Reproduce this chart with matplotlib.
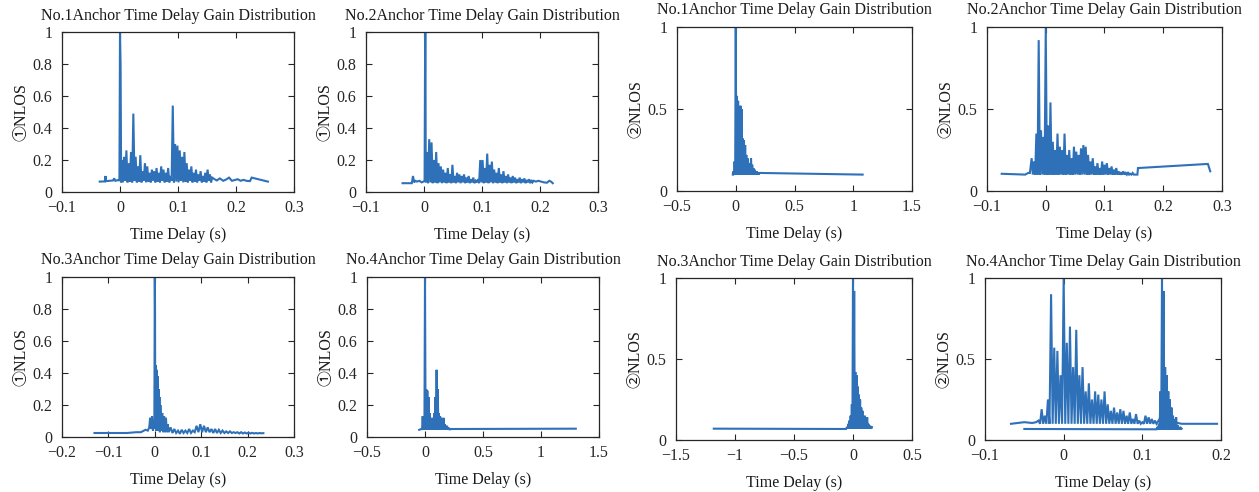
import numpy as np
import matplotlib
matplotlib.use("Agg")
import matplotlib.pyplot as plt
from matplotlib.ticker import FuncFormatter

plt.rcParams['font.family'] = ['Liberation Serif', 'DejaVu Serif', 'Noto Sans CJK SC']
plt.rcParams['axes.unicode_minus'] = True

LINE = '#2f71b9'

# ---------------- data ----------------
titles = ["No.1Anchor Time Delay Gain Distribution", "No.2Anchor Time Delay Gain Distribution",
          "No.1Anchor Time Delay Gain Distribution", "No.2Anchor Time Delay Gain Distribution",
          "No.3Anchor Time Delay Gain Distribution", "No.4Anchor Time Delay Gain Distribution",
          "No.3Anchor Time Delay Gain Distribution", "No.4Anchor Time Delay Gain Distribution"]
ylabels = ["\u2460NLOS", "\u2460NLOS", "\u2461NLOS", "\u2461NLOS",
           "\u2460NLOS", "\u2460NLOS", "\u2461NLOS", "\u2461NLOS"]
xlabel = "Time Delay (s)"

xlims = [(-0.1, 0.3), (-0.1, 0.3), (-0.5, 1.5), (-0.1, 0.3),
         (-0.2, 0.3), (-0.5, 1.5), (-1.5, 0.5), (-0.1, 0.2)]
xticks = [[-0.1, 0, 0.1, 0.2, 0.3], [-0.1, 0, 0.1, 0.2, 0.3], [-0.5, 0, 0.5, 1, 1.5], [-0.1, 0, 0.1, 0.2, 0.3],
          [-0.2, -0.1, 0, 0.1, 0.2, 0.3], [-0.5, 0, 0.5, 1, 1.5], [-1.5, -1, -0.5, 0, 0.5], [-0.1, 0, 0.1, 0.2]]
yticks_fine = [0, 0.2, 0.4, 0.6, 0.8, 1]
yticks_coarse = [0, 0.5, 1]

# Panel 1: No.1 anchor, NLOS 1
p1_t = [-0.035, -0.026, -0.025, -0.024, -0.018, -0.012, -0.010, -0.008, -0.003, -0.001, 0.000, 0.001, 0.002,
        0.003, 0.005, 0.007, 0.009, 0.011, 0.013, 0.015, 0.017, 0.019, 0.021,
        0.023, 0.025, 0.027, 0.029, 0.031, 0.033, 0.035, 0.037, 0.039, 0.041,
        0.043, 0.045, 0.047, 0.049, 0.051, 0.053, 0.055, 0.057, 0.059, 0.061,
        0.063, 0.065, 0.067, 0.069, 0.071, 0.073, 0.075, 0.077, 0.079, 0.081,
        0.083, 0.085, 0.087, 0.089, 0.091, 0.093, 0.095, 0.097, 0.099, 0.101,
        0.103, 0.105, 0.107, 0.109, 0.111, 0.113, 0.115, 0.117, 0.119, 0.121,
        0.123, 0.125, 0.127, 0.129, 0.131, 0.133, 0.135, 0.137, 0.139, 0.141,
        0.143, 0.145, 0.147, 0.149, 0.151, 0.153, 0.155, 0.157, 0.159,
        0.163, 0.167, 0.172, 0.178, 0.183, 0.188, 0.193, 0.198, 0.203, 0.208, 0.213, 0.218, 0.224, 0.227, 0.255]
p1_g = [0.065, 0.066, 0.10, 0.068, 0.07, 0.072, 0.085, 0.07, 0.075, 0.07, 1.0, 0.80, 0.06,
        0.20, 0.06, 0.22, 0.07, 0.26, 0.06, 0.18, 0.065, 0.25, 0.06,
        0.49, 0.07, 0.22, 0.06, 0.16, 0.065, 0.23, 0.06, 0.13, 0.07,
        0.18, 0.06, 0.16, 0.065, 0.12, 0.06, 0.14, 0.07, 0.13, 0.06,
        0.15, 0.065, 0.12, 0.06, 0.16, 0.07, 0.14, 0.06, 0.12, 0.065,
        0.15, 0.06, 0.10, 0.07, 0.54, 0.06, 0.30, 0.065, 0.29, 0.06,
        0.26, 0.07, 0.22, 0.06, 0.25, 0.065, 0.18, 0.06, 0.14, 0.07,
        0.16, 0.06, 0.12, 0.065, 0.14, 0.06, 0.11, 0.07, 0.13, 0.06,
        0.10, 0.065, 0.12, 0.06, 0.14, 0.07, 0.11, 0.06, 0.09,
        0.08, 0.072, 0.085, 0.07, 0.078, 0.09, 0.07, 0.075, 0.08, 0.07, 0.076, 0.07, 0.068, 0.09, 0.065]

# Panel 2: No.2 anchor, NLOS 1
p2_t = [-0.037, -0.021, -0.019, -0.017, -0.015, -0.012, -0.008, -0.004, -0.001, 0.001, 0.002, 0.0025, 0.003,
        0.005, 0.007, 0.009, 0.011, 0.013, 0.015, 0.017, 0.019, 0.021, 0.023,
        0.025, 0.027, 0.029, 0.031, 0.033, 0.035, 0.037, 0.039, 0.041, 0.043,
        0.045, 0.047, 0.049, 0.051, 0.053, 0.055, 0.057, 0.059, 0.061, 0.063,
        0.065, 0.067, 0.069, 0.071, 0.073, 0.075, 0.077, 0.079, 0.081, 0.083,
        0.085, 0.087, 0.089, 0.091, 0.093, 0.095, 0.097, 0.099, 0.101, 0.103,
        0.105, 0.107, 0.109, 0.111, 0.113, 0.115, 0.117, 0.119, 0.121, 0.123,
        0.125, 0.127, 0.129, 0.131, 0.133, 0.135, 0.137, 0.139, 0.141, 0.143,
        0.145, 0.147, 0.149, 0.151, 0.153, 0.155, 0.157, 0.159, 0.161, 0.163,
        0.165, 0.167, 0.169, 0.171, 0.173, 0.175, 0.177, 0.179, 0.181, 0.183,
        0.185, 0.187, 0.189,
        0.193, 0.197, 0.202, 0.207, 0.212, 0.216, 0.219, 0.222]
p2_g = [0.055, 0.055, 0.10, 0.06, 0.07, 0.065, 0.07, 0.06, 0.065, 0.07, 1.0, 1.0, 0.06,
        0.25, 0.055, 0.33, 0.06, 0.31, 0.055, 0.20, 0.06, 0.25, 0.055,
        0.18, 0.06, 0.16, 0.055, 0.14, 0.06, 0.12, 0.055, 0.15, 0.06,
        0.11, 0.055, 0.17, 0.06, 0.10, 0.055, 0.12, 0.06, 0.11, 0.055,
        0.10, 0.06, 0.11, 0.055, 0.09, 0.06, 0.10, 0.055, 0.08, 0.06,
        0.09, 0.055, 0.07, 0.06, 0.08, 0.055, 0.20, 0.06, 0.20, 0.055,
        0.15, 0.06, 0.24, 0.055, 0.17, 0.06, 0.19, 0.055, 0.14, 0.06,
        0.12, 0.055, 0.15, 0.06, 0.11, 0.055, 0.13, 0.06, 0.10, 0.055,
        0.11, 0.06, 0.09, 0.055, 0.10, 0.06, 0.09, 0.055, 0.08, 0.06,
        0.09, 0.055, 0.08, 0.06, 0.085, 0.055, 0.075, 0.06, 0.08, 0.055,
        0.075, 0.06, 0.07,
        0.065, 0.07, 0.065, 0.06, 0.058, 0.07, 0.065, 0.055]

# Panel 3: No.1 anchor, NLOS 2
p3_t = [-0.025, -0.022,
        -0.020, -0.015, -0.010, -0.005, 0.000, 0.005, 0.010, 0.015, 0.020, 0.025,
        0.030, 0.035, 0.040, 0.045, 0.050, 0.055, 0.060, 0.065, 0.070, 0.075,
        0.080, 0.085, 0.090, 0.095, 0.100, 0.105, 0.110, 0.115, 0.120, 0.125,
        0.130, 0.135, 0.140, 0.145, 0.150, 0.155, 0.160, 0.165, 0.170, 0.175,
        0.180, 0.185, 0.190, 0.195, 0.200,
        0.21, 1.08]
p3_g = [0.10, 0.10,
        0.12, 0.10, 0.18, 0.10, 1.00, 0.10, 0.58, 0.10, 0.55, 0.10,
        0.45, 0.10, 0.52, 0.10, 0.50, 0.10, 0.32, 0.10, 0.31, 0.10,
        0.28, 0.10, 0.22, 0.10, 0.20, 0.10, 0.17, 0.10, 0.15, 0.10,
        0.20, 0.10, 0.16, 0.10, 0.14, 0.10, 0.13, 0.10, 0.12, 0.10,
        0.12, 0.10, 0.11, 0.10, 0.11,
        0.11, 0.10]

# Panel 4: No.2 anchor, NLOS 2
p4_t = [-0.075, -0.035, -0.030, -0.027,
        -0.024, -0.022, -0.020, -0.018, -0.016, -0.014, -0.012, -0.010, -0.008, -0.006,
        -0.004, -0.002, 0.000, 0.002, 0.004, 0.006, 0.008, 0.010, 0.012, 0.014,
        0.016, 0.018, 0.020, 0.022, 0.024, 0.026, 0.028, 0.030, 0.032, 0.034,
        0.036, 0.038, 0.040, 0.042, 0.044, 0.046, 0.048, 0.050, 0.052, 0.054,
        0.056, 0.058, 0.060, 0.062, 0.064, 0.066, 0.068, 0.070, 0.072, 0.074,
        0.076, 0.078, 0.080, 0.082, 0.084, 0.086, 0.088, 0.090, 0.092, 0.094,
        0.096, 0.098, 0.100, 0.102, 0.104, 0.106, 0.108, 0.110, 0.112, 0.114,
        0.116, 0.118, 0.120, 0.122, 0.124, 0.126, 0.128, 0.130, 0.132, 0.134,
        0.136, 0.138, 0.140, 0.142, 0.144, 0.146, 0.148, 0.150,
        0.153, 0.156, 0.157, 0.276, 0.280]
p4_g = [0.105, 0.10, 0.11, 0.11,
        0.20, 0.10, 0.18, 0.10, 0.35, 0.10, 0.92, 0.10, 0.37, 0.10,
        0.33, 0.10, 1.00, 0.10, 0.40, 0.10, 0.54, 0.10, 0.30, 0.10,
        0.25, 0.10, 0.35, 0.10, 0.27, 0.10, 0.25, 0.10, 0.35, 0.10,
        0.22, 0.10, 0.25, 0.10, 0.20, 0.10, 0.27, 0.10, 0.24, 0.10,
        0.22, 0.10, 0.26, 0.10, 0.28, 0.10, 0.27, 0.10, 0.22, 0.10,
        0.18, 0.10, 0.20, 0.10, 0.15, 0.10, 0.17, 0.10, 0.14, 0.10,
        0.18, 0.10, 0.16, 0.10, 0.17, 0.10, 0.14, 0.10, 0.15, 0.10,
        0.13, 0.10, 0.14, 0.10, 0.12, 0.10, 0.11, 0.10, 0.12, 0.10,
        0.11, 0.10, 0.115, 0.10, 0.105, 0.10, 0.11, 0.10,
        0.10, 0.10, 0.14, 0.165, 0.12]

# Panel 5: No.3 anchor, NLOS 1
p5_t = [-0.13, -0.06, -0.04, -0.03, -0.02, -0.015, -0.012,
        -0.010, -0.008, -0.006, -0.004, -0.002, -0.001, 0.000, 0.0005, 0.001,
        0.002, 0.003, 0.004, 0.005, 0.006, 0.007, 0.008, 0.009, 0.010, 0.011, 0.012,
        0.014, 0.016, 0.018, 0.020, 0.022, 0.024, 0.026, 0.028, 0.030,
        0.034, 0.038, 0.042, 0.046, 0.050, 0.054, 0.058, 0.062, 0.066, 0.070,
        0.074, 0.078, 0.082, 0.086, 0.090, 0.094, 0.098, 0.102, 0.106, 0.110,
        0.114, 0.118, 0.122, 0.126, 0.130, 0.134, 0.138, 0.142, 0.146, 0.150,
        0.154, 0.158, 0.162, 0.166, 0.170, 0.174, 0.178, 0.182, 0.186, 0.190,
        0.194, 0.198, 0.202, 0.206, 0.210, 0.214, 0.218, 0.222, 0.226, 0.230, 0.234]
p5_g = [0.025, 0.025, 0.03, 0.03, 0.045, 0.04, 0.06,
        0.12, 0.05, 0.13, 0.04, 0.10, 0.05, 1.00, 0.80, 0.05,
        0.45, 0.04, 0.42, 0.05, 0.38, 0.04, 0.30, 0.04, 0.25, 0.03, 0.20,
        0.04, 0.15, 0.03, 0.13, 0.03, 0.12, 0.03, 0.08, 0.03,
        0.06, 0.025, 0.05, 0.025, 0.04, 0.02, 0.045, 0.025, 0.04, 0.025,
        0.05, 0.025, 0.04, 0.03, 0.07, 0.03, 0.08, 0.03, 0.07, 0.03,
        0.06, 0.03, 0.05, 0.025, 0.05, 0.025, 0.045, 0.025, 0.04, 0.025,
        0.035, 0.025, 0.035, 0.025, 0.03, 0.025, 0.03, 0.022, 0.03, 0.022,
        0.028, 0.022, 0.027, 0.022, 0.026, 0.022, 0.025, 0.022, 0.025, 0.023, 0.024]

# Panel 6: No.4 anchor, NLOS 1
p6_t = [-0.05, -0.03, -0.025,
        -0.020, -0.015, -0.010, -0.005, 0.000, 0.005, 0.010, 0.015, 0.020, 0.025,
        0.030, 0.035, 0.040, 0.045, 0.050, 0.055, 0.060, 0.065, 0.070, 0.075,
        0.080, 0.085, 0.090, 0.095, 0.100, 0.105, 0.110, 0.115, 0.120, 0.125,
        0.130, 0.135, 0.140, 0.145, 0.150, 0.155, 0.160, 0.165, 0.170, 0.175,
        0.180, 0.185, 0.190, 0.195, 0.200, 0.205, 0.210, 0.215, 0.220,
        0.25, 1.30]
p6_g = [0.045, 0.05, 0.05,
        0.13, 0.045, 0.12, 0.045, 1.00, 0.045, 0.30, 0.045, 0.29, 0.045,
        0.25, 0.045, 0.15, 0.045, 0.12, 0.045, 0.10, 0.045, 0.12, 0.045,
        0.15, 0.045, 0.25, 0.045, 0.42, 0.045, 0.30, 0.045, 0.15, 0.045,
        0.13, 0.045, 0.12, 0.045, 0.11, 0.045, 0.12, 0.045, 0.08, 0.045,
        0.07, 0.045, 0.07, 0.045, 0.06, 0.045, 0.055, 0.045, 0.05,
        0.05, 0.052]

# Panel 7: No.3 anchor, NLOS 2
p7_t = [-1.18, -0.06,
        -0.050, -0.045, -0.040, -0.035, -0.030, -0.025, -0.020, -0.015, -0.010, -0.005,
        0.000, 0.005, 0.010, 0.015, 0.020, 0.025, 0.030, 0.035, 0.040, 0.045,
        0.050, 0.055, 0.060, 0.065, 0.070, 0.075, 0.080, 0.085, 0.090, 0.095,
        0.100, 0.105, 0.110, 0.115, 0.120, 0.125, 0.130, 0.135, 0.140, 0.145,
        0.150, 0.155, 0.160]
p7_g = [0.07, 0.068,
        0.08, 0.07, 0.10, 0.07, 0.12, 0.07, 0.15, 0.07, 0.22, 0.07,
        1.00, 0.07, 0.92, 0.07, 0.42, 0.07, 0.40, 0.07, 0.33, 0.07,
        0.28, 0.07, 0.25, 0.07, 0.20, 0.07, 0.18, 0.07, 0.14, 0.07,
        0.15, 0.07, 0.12, 0.07, 0.14, 0.07, 0.10, 0.07, 0.09, 0.07,
        0.085, 0.07, 0.08]

# Panel 8: No.4 anchor, NLOS 2 (two traces)
p8a_t = [-0.067, -0.050, -0.040, -0.035,
         -0.032, -0.030, -0.028, -0.026, -0.024, -0.022, -0.020, -0.018, -0.016, -0.014,
         -0.012, -0.010, -0.008, -0.006, -0.004, -0.002, 0.000, 0.002, 0.004, 0.006,
         0.008, 0.010, 0.012, 0.014, 0.016, 0.018, 0.020, 0.022, 0.024, 0.026,
         0.028, 0.030, 0.032, 0.034, 0.036, 0.038, 0.040, 0.042, 0.044, 0.046,
         0.048, 0.050, 0.052, 0.054, 0.056, 0.058, 0.060, 0.062, 0.064, 0.066,
         0.068, 0.070, 0.072, 0.074, 0.076, 0.078, 0.080, 0.082, 0.084, 0.086,
         0.088, 0.090, 0.092, 0.094, 0.096, 0.098, 0.100, 0.102, 0.104, 0.106,
         0.108, 0.110, 0.112, 0.114, 0.116, 0.118,
         0.122, 0.124, 0.140, 0.150, 0.195]
p8a_g = [0.10, 0.11, 0.105, 0.11,
         0.12, 0.10, 0.19, 0.10, 0.15, 0.10, 0.25, 0.10, 0.90, 0.10,
         0.57, 0.10, 0.55, 0.10, 0.40, 0.10, 1.00, 0.10, 0.60, 0.10,
         0.70, 0.10, 0.45, 0.10, 0.68, 0.10, 0.40, 0.10, 0.45, 0.10,
         0.30, 0.10, 0.35, 0.10, 0.25, 0.10, 0.30, 0.10, 0.28, 0.10,
         0.25, 0.10, 0.30, 0.10, 0.22, 0.10, 0.18, 0.10, 0.20, 0.10,
         0.17, 0.10, 0.19, 0.10, 0.18, 0.10, 0.15, 0.10, 0.17, 0.10,
         0.13, 0.10, 0.16, 0.10, 0.12, 0.10, 0.11, 0.10, 0.15, 0.10,
         0.14, 0.10, 0.13, 0.10, 0.12, 0.10,
         0.13, 0.12, 0.11, 0.10, 0.10]
p8b_t = [-0.050, 0.118,
         0.119, 0.120, 0.121, 0.122, 0.123, 0.124, 0.125, 0.126, 0.127, 0.128,
         0.129, 0.130, 0.131, 0.132, 0.133, 0.134, 0.135, 0.136, 0.137, 0.138,
         0.139, 0.140, 0.141, 0.142, 0.143, 0.144, 0.145, 0.146, 0.147, 0.148, 0.149,
         0.150]
p8b_g = [0.068, 0.066,
         0.08, 0.065, 0.10, 0.065, 0.30, 0.065, 1.00, 0.065, 0.92, 0.065,
         0.45, 0.065, 0.40, 0.065, 0.30, 0.065, 0.25, 0.065, 0.20, 0.065,
         0.15, 0.065, 0.13, 0.065, 0.14, 0.065, 0.09, 0.065, 0.08, 0.065, 0.075,
         0.07]

traces = [[(p1_t, p1_g)], [(p2_t, p2_g)], [(p3_t, p3_g)], [(p4_t, p4_g)],
          [(p5_t, p5_g)], [(p6_t, p6_g)], [(p7_t, p7_g)], [(p8a_t, p8a_g), (p8b_t, p8b_g)]]

# ---------------- layout (pixel boxes: left, top, right, bottom) ----------------
W, H = 1259, 492
boxes = [(62, 32, 294, 192), (366, 32, 598, 192), (677, 27, 912, 191), (987, 27, 1222, 191),
         (62, 277, 294, 437), (367, 277, 599, 437), (676, 278, 912, 440), (985, 278, 1221, 440)]

fig = plt.figure(figsize=(W / 100, H / 100), dpi=100)


def fmt(v, pos):
    s = '%g' % v
    return s.replace('-', '\u2212')


for i in range(8):
    l, t, r, b = boxes[i]
    ax = fig.add_axes([l / W, 1 - b / H, (r - l) / W, (b - t) / H])
    for (tt, gg) in traces[i]:
        n = min(len(tt), len(gg))
        ax.plot(tt[:n], gg[:n], color=LINE, lw=1.5, solid_joinstyle='miter')
    ax.set_xlim(*xlims[i])
    ax.set_ylim(0, 1)
    ax.set_xticks(xticks[i])
    ax.set_yticks(yticks_coarse if i in (2, 3, 6, 7) else yticks_fine)
    ax.xaxis.set_major_formatter(FuncFormatter(fmt))
    ax.yaxis.set_major_formatter(FuncFormatter(fmt))
    ax.tick_params(direction='in', top=True, right=True, length=4, width=0.8,
                   labelsize=11.5, colors='#262626')
    ax.tick_params(axis='x', pad=6)
    ax.tick_params(axis='y', pad=7)
    for sp in ax.spines.values():
        sp.set_linewidth(0.9)
        sp.set_color('#262626')
    ax.set_title(titles[i], fontsize=11.5, pad=9, color='#1a1a1a')
    ax.set_xlabel(xlabel, fontsize=11.5, color='#1a1a1a', labelpad=8)
    ax.set_ylabel(ylabels[i], fontsize=11.5, color='#1a1a1a', labelpad=2)

fig.savefig('out.png', dpi=100, facecolor='white')
